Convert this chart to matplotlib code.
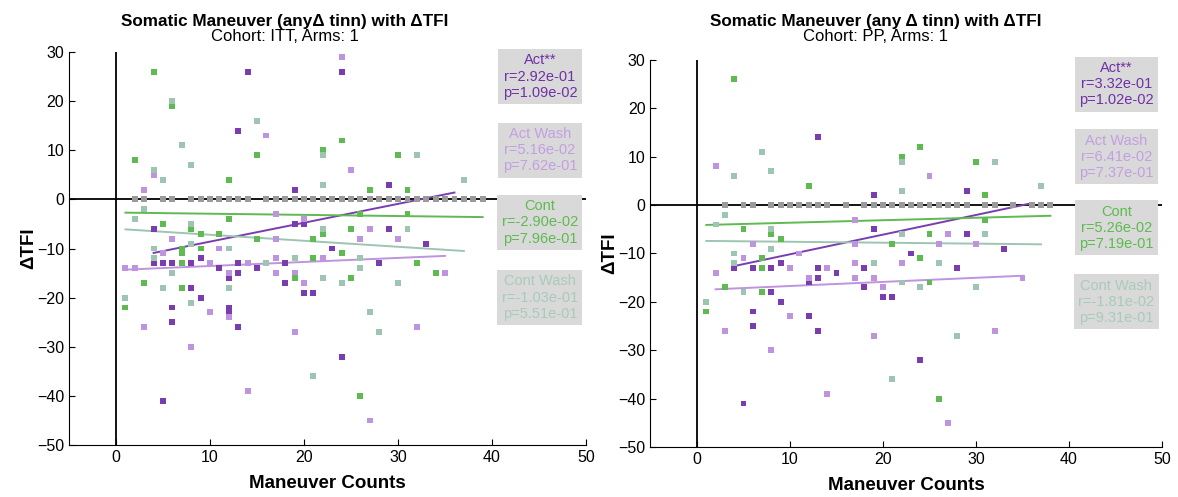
import numpy as np
import matplotlib
matplotlib.use("Agg")
import matplotlib.pyplot as plt

plt.rcParams["font.family"] = ["Liberation Sans", "DejaVu Sans"]

# ---------------- ITT cohort (left) ----------------
itt_act_x = [14, 24, 13, 19, 29, 4, 19, 20, 29, 23, 33, 4, 5, 6, 8, 9, 13, 11, 15, 18, 12, 13, 18, 8, 28, 20, 21, 9, 6, 12, 12, 6, 13, 24, 5]
itt_act_y = [26, 26, 14, 2, 3, -6, -5, -5, -6, -10, -9, -13, -13, -13, -13, -12, -13, -14, -14, -13, -16, -15, -17, -18, -13, -19, -19, -20, -22, -22, -23, -25, -26, -32, -41]
itt_aw_x = [24, 16, 25, 4, 3, 17, 20, 6, 17, 26, 30, 27, 5, 11, 10, 14, 1, 2, 17, 22, 12, 17, 19, 35, 20, 10, 12, 3, 19, 32, 8, 14, 27]
itt_aw_y = [29, 13, 6, 5, 2, -3, -4, -8, -8, -8, -8, -6, -11, -10, -13, -13, -14, -14, -12, -12, -15, -15, -15, -15, -17, -23, -24, -26, -27, -26, -30, -39, -45]
itt_cont_x = [4, 6, 15, 24, 22, 30, 2, 12, 27, 31, 5, 12, 8, 9, 11, 15, 26, 31, 25, 21, 22, 7, 7, 9, 7, 24, 21, 32, 3, 19, 7, 25, 34, 1, 26]
itt_cont_y = [26, 19, 9, 12, 10, 9, 8, 4, 2, 2, -5, -4, -6, -7, -7, -8, -3, -3, -6, -8, -7, -10, -11, -10, -13, -11, -12, -13, -17, -16, -18, -16, -15, -22, -40]
itt_cw_x = [6, 15, 7, 8, 4, 5, 22, 32, 37, 22, 3, 2, 8, 22, 31, 4, 8, 12, 4, 16, 19, 26, 26, 6, 5, 12, 22, 24, 30, 1, 8, 27, 28, 21]
itt_cw_y = [20, 16, 11, 7, 6, 4, 9, 9, 4, 3, -2, -4, -5, -6, -6, -10, -9, -10, -12, -13, -12, -12, -14, -15, -18, -18, -16, -17, -17, -20, -21, -23, -27, -36]
itt_zero_x = [2, 3, 5, 6, 8, 9, 10, 11, 12, 13, 14, 16, 17, 18] + list(range(19, 40))

# fit lines (x0, x1) -> (y0, y1)
itt_fit_act = ([4, 36], [-10.9, 1.4])
itt_fit_aw = ([1, 35], [-14.3, -11.5])
itt_fit_cont = ([1, 39], [-2.7, -3.6])
itt_fit_cw = ([1, 37], [-6.1, -10.5])

itt_stats = [("Act**", "2.92e-01", "1.09e-02"),
             ("Act Wash", "5.16e-02", "7.62e-01"),
             ("Cont", "-2.90e-02", "7.96e-01"),
             ("Cont Wash", "-1.03e-01", "5.51e-01")]

# ---------------- PP cohort (right) ----------------
pp_act_x = [13, 19, 29, 19, 29, 23, 33, 4, 6, 8, 9, 13, 15, 18, 12, 13, 8, 18, 20, 21, 28, 9, 6, 12, 6, 13, 24, 5]
pp_act_y = [14, 2, 3, -5, -6, -10, -9, -13, -13, -13, -12, -13, -14, -13, -16, -15, -18, -17, -19, -19, -13, -20, -22, -23, -25, -26, -32, -41]
pp_aw_x = [2, 25, 17, 6, 17, 27, 26, 30, 11, 5, 10, 14, 17, 2, 12, 17, 19, 20, 22, 35, 10, 3, 19, 32, 8, 14, 27]
pp_aw_y = [8, 6, -3, -8, -8, -6, -8, -8, -10, -11, -13, -13, -12, -14, -15, -15, -15, -17, -12, -15, -23, -26, -27, -26, -30, -39, -45]
pp_cont_x = [4, 24, 22, 30, 12, 31, 5, 8, 9, 31, 25, 21, 7, 24, 7, 25, 3, 7, 1, 26]
pp_cont_y = [26, 12, 10, 9, 4, 2, -5, -6, -7, -3, -6, -8, -11, -11, -13, -16, -17, -18, -22, -40]
pp_cw_x = [7, 4, 8, 22, 32, 22, 37, 3, 2, 8, 22, 31, 4, 8, 4, 19, 26, 5, 22, 24, 30, 1, 28, 21]
pp_cw_y = [11, 6, 7, 9, 9, 3, 4, -2, -4, -5, -6, -6, -10, -9, -12, -12, -12, -18, -16, -17, -17, -20, -27, -36]
pp_zero_x = [3, 5, 6, 8, 9, 10, 11, 12, 13, 14, 16, 18] + list(range(19, 30)) + [31, 32, 34, 36, 37, 38]

pp_fit_act = ([4, 36], [-12.6, 0.4])
pp_fit_aw = ([2, 35], [-17.4, -14.6])
pp_fit_cont = ([1, 38], [-4.1, -2.2])
pp_fit_cw = ([1, 37], [-7.4, -8.1])

pp_stats = [("Act**", "3.32e-01", "1.02e-02"),
            ("Act Wash", "6.41e-02", "7.37e-01"),
            ("Cont", "5.26e-02", "7.19e-01"),
            ("Cont Wash", "-1.81e-02", "9.31e-01")]

x_ticks = [0, 10, 20, 30, 40, 50]
y_ticks = [30, 20, 10, 0, -10, -20, -30, -40, -50]

marker_colors = ["#7a3db0", "#bf94de", "#5fba51", "#9dc5b2"]
text_colors = ["#7030a6", "#c49ee2", "#5dbb4f", "#a8cbba"]
zero_color = "#9a9a9a"
box_y = [25, 10, -4.7, -20]


def draw_panel(ax, groups, fits, zero_x, stats):
    ax.axhline(0, color="black", lw=1.3, zorder=1)
    ax.axvline(0, color="black", lw=1.3, zorder=1)

    for (gx, gy), (fx, fy), c in zip(groups, fits, marker_colors):
        ax.scatter(gx, gy, marker="s", s=18, color=c, edgecolors="none", zorder=3)
        ax.plot(fx, fy, color=c, lw=1.4, zorder=2)

    ax.scatter(zero_x, [0] * len(zero_x), marker="s", s=18, color=zero_color,
               edgecolors="none", zorder=4)

    for (name, r, p), yy, tc in zip(stats, box_y, text_colors):
        ax.text(45.1, yy, f"{name}\nr={r}\np={p}", color=tc, fontsize=10.5,
                ha="center", va="center", linespacing=1.2, zorder=5,
                bbox=dict(boxstyle="square,pad=0.3", fc="#d9d9d9", ec="none"))

    ax.set_xlim(-5, 50)
    ax.set_ylim(-50, 30)
    ax.set_xticks(x_ticks)
    ax.set_yticks(y_ticks)
    ax.tick_params(direction="in", labelsize=11.5, length=4, width=0.8)
    for side in ["top", "right"]:
        ax.spines[side].set_visible(False)
    for side in ["left", "bottom"]:
        ax.spines[side].set_linewidth(0.8)

    ax.set_xlabel("Maneuver Counts", fontsize=13.5, fontweight="bold", labelpad=7)
    ax.set_ylabel("ΔTFI", fontsize=13.5, fontweight="bold", labelpad=0)


fig = plt.figure(figsize=(11.78, 4.97), dpi=100)
ax1 = fig.add_axes([0.0586, 0.1046, 0.4389, 0.7907])
ax2 = fig.add_axes([0.5522, 0.1006, 0.4342, 0.7787])

draw_panel(ax1,
           [(itt_act_x, itt_act_y), (itt_aw_x, itt_aw_y), (itt_cont_x, itt_cont_y), (itt_cw_x, itt_cw_y)],
           [itt_fit_act, itt_fit_aw, itt_fit_cont, itt_fit_cw],
           itt_zero_x, itt_stats)
draw_panel(ax2,
           [(pp_act_x, pp_act_y), (pp_aw_x, pp_aw_y), (pp_cont_x, pp_cont_y), (pp_cw_x, pp_cw_y)],
           [pp_fit_act, pp_fit_aw, pp_fit_cont, pp_fit_cw],
           pp_zero_x, pp_stats)

# titles
fig.text(0.242, 0.9477, "Somatic Maneuver (anyΔ tinn) with ΔTFI", ha="center",
         va="baseline", fontsize=12.3, fontweight="bold")
fig.text(0.242, 0.9165, "Cohort: ITT, Arms: 1", ha="center", va="baseline", fontsize=12)
fig.text(0.7436, 0.9477, "Somatic Maneuver (any Δ tinn) with ΔTFI", ha="center",
         va="baseline", fontsize=12.3, fontweight="bold")
fig.text(0.7436, 0.9165, "Cohort: PP, Arms: 1", ha="center", va="baseline", fontsize=12)

fig.savefig("out.png", dpi=100)
